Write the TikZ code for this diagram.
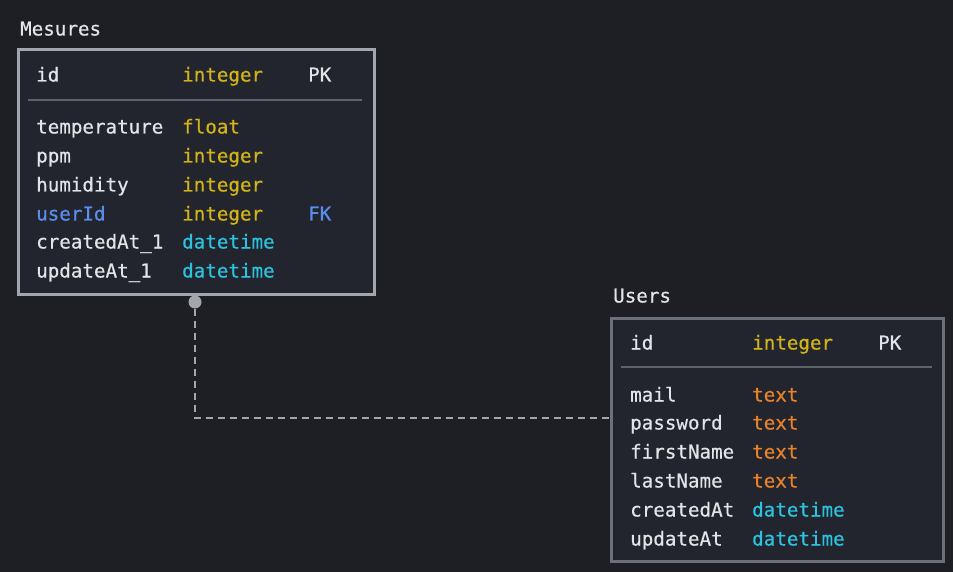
\documentclass[tikz,border=0pt]{standalone}
\usepackage{fontspec}
\newfontfamily\erfont[FakeBold=0.5]{DejaVu Sans Mono}
\definecolor{bgc}{HTML}{1E1F24}
\definecolor{boxc}{HTML}{22252E}
\definecolor{borderA}{HTML}{A3A6AD}
\definecolor{borderB}{HTML}{6C707A}
\definecolor{sepc}{HTML}{5E626B}
\definecolor{txtc}{HTML}{E2E4E8}
\definecolor{yelc}{HTML}{D2B418}
\definecolor{orac}{HTML}{E8822A}
\definecolor{cyac}{HTML}{2CC3E0}
\definecolor{bluc}{HTML}{5B8DEF}
\definecolor{linec}{HTML}{A3A6AD}
\tikzset{
  cell/.style={anchor=west, inner sep=0pt, text height=14pt, text depth=4pt,
    font=\erfont\fontsize{19.2}{21}\selectfont, text=txtc, yshift=-1.5pt},
  title/.style={cell},
  ytype/.style={cell, text=yelc},
  otype/.style={cell, text=orac},
  ctype/.style={cell, text=cyac},
  fkey/.style={cell, text=bluc},
  tableA/.style={draw=borderA, line width=3pt, fill=boxc},
  tableB/.style={draw=borderB, line width=3pt, fill=boxc},
  sepline/.style={draw=sepc, line width=1.3pt},
  rel/.style={draw=linec, line width=2.2pt, dash pattern=on 7pt off 5pt},
}
\begin{document}
\begin{tikzpicture}[x=1pt,y=-1pt]
\fill[bgc] (0,0) rectangle (953,572);
\useasboundingbox (0,0) rectangle (953,572);

% Mesures table
\node[title] (mt) at (20,29) {Mesures};
\draw[tableA] (18,50) rectangle (374,294);
\draw[sepline] (28,100) -- (362,100);
\node[cell] (m1n) at (36,75) {id};
\node[ytype] (m1t) at (182,75) {integer};
\node[cell] (m1k) at (308,75) {PK};
\node[cell] (m2n) at (36,127) {temperature};
\node[ytype] (m2t) at (182,127) {float};
\node[cell] (m3n) at (36,156) {ppm};
\node[ytype] (m3t) at (182,156) {integer};
\node[cell] (m4n) at (36,185) {humidity};
\node[ytype] (m4t) at (182,185) {integer};
\node[cell, text=bluc] (m5n) at (36,214) {userId};
\node[ytype] (m5t) at (182,214) {integer};
\node[fkey] (m5k) at (308,214) {FK};
\node[cell] (m6n) at (36,242) {createdAt\_1};
\node[ctype] (m6t) at (182,242) {datetime};
\node[cell] (m7n) at (36,271) {updateAt\_1};
\node[ctype] (m7t) at (182,271) {datetime};

% Users table
\node[title] (ut) at (613,296) {Users};
\draw[tableB] (611,318) rectangle (943,561);
\coordinate (uleft) at (611,418);
\draw[sepline] (621,367) -- (932,367);
\node[cell] (u1n) at (630,343) {id};
\node[ytype] (u1t) at (752,343) {integer};
\node[cell] (u1k) at (878,343) {PK};
\node[cell] (u2n) at (630,395) {mail};
\node[otype] (u2t) at (752,395) {text};
\node[cell] (u3n) at (630,423) {password};
\node[otype] (u3t) at (752,423) {text};
\node[cell] (u4n) at (630,452) {firstName};
\node[otype] (u4t) at (752,452) {text};
\node[cell] (u5n) at (630,481) {lastName};
\node[otype] (u5t) at (752,481) {text};
\node[cell] (u6n) at (630,510) {createdAt};
\node[ctype] (u6t) at (752,510) {datetime};
\node[cell] (u7n) at (630,539) {updateAt};
\node[ctype] (u7t) at (752,539) {datetime};

% relation
\node[circle, fill=linec, inner sep=0pt, minimum size=13pt] (dot) at (195,302) {};
\coordinate (corner) at (195,418);
\draw[rel] (dot.south) -- (corner) -- (uleft);
\end{tikzpicture}
\end{document}
